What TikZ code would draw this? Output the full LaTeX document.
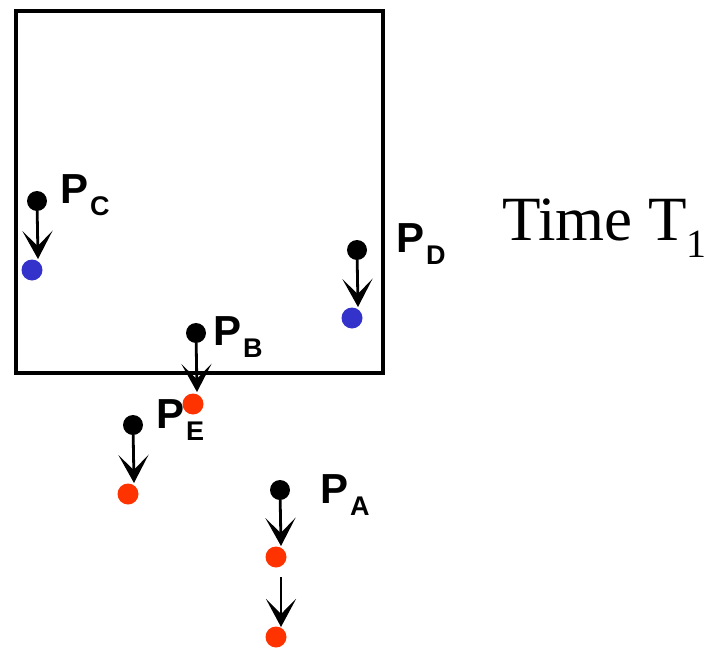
\documentclass[tikz,border=0pt]{standalone}
\usepackage{fontspec}
\setmainfont{Liberation Serif}
\newfontfamily\lblfont{Liberation Sans}
\usetikzlibrary{arrows.meta}
\definecolor{dotblue}{RGB}{51,51,204}
\definecolor{dotred}{RGB}{255,51,0}
\newcommand{\plabel}[1]{{\lblfont\bfseries\fontsize{42}{42}\selectfont P\hspace{2pt}\raisebox{-12pt}{\fontsize{27}{27}\selectfont #1}}}
\begin{document}
\begin{tikzpicture}[x=1pt,y=-1pt,
  blackdot/.style={circle,fill=black,minimum size=20pt,inner sep=0pt},
  bluedot/.style={circle,fill=dotblue,minimum size=21pt,inner sep=0pt},
  reddot/.style={circle,fill=dotred,minimum size=21pt,inner sep=0pt},
  arr/.style={line width=2.8pt,-{Stealth[length=28pt,width=30pt,inset=15pt]}},
  lbl/.style={anchor=base west,inner sep=0pt,outer sep=0pt}]
\useasboundingbox (0,0) rectangle (710,648);
\node[draw,line width=3.6pt,minimum width=367pt,minimum height=362pt,inner sep=0pt,anchor=north west] (box) at (14,9) {};
% P_C
\node[blackdot] (bC) at (37,201) {};
\node[bluedot] (cC) at (32,270) {};
\coordinate (tC) at (38,259);
\draw[arr] (bC) -- (tC);
\node[lbl] (lC) at (60,203) {\plabel{C}};
% P_D
\node[blackdot] (bD) at (357,250) {};
\node[bluedot] (cD) at (352,318) {};
\coordinate (tD) at (358,307);
\draw[arr] (bD) -- (tD);
\node[lbl] (lD) at (396,252) {\plabel{D}};
% P_B
\node[blackdot] (bB) at (196,333) {};
\node[reddot] (cB) at (193,404) {};
\coordinate (tB) at (197,392);
\draw[arr] (bB) -- (tB);
\node[lbl] (lB) at (213,345) {\plabel{B}};
% P_E
\node[blackdot] (bE) at (133,425) {};
\node[reddot] (cE) at (128,494) {};
\coordinate (tE) at (134,483);
\draw[arr] (bE) -- (tE);
\node[lbl] (lE) at (156,428) {\plabel{E}};
% P_A
\node[blackdot] (bA) at (280,490) {};
\node[reddot] (cA) at (276,557) {};
\coordinate (tA) at (281,546);
\draw[arr] (bA) -- (tA);
\coordinate (sA2) at (281,577);
\coordinate (tA2) at (281,627);
\node[reddot] (cA2) at (276,637) {};
\draw[arr] (sA2) -- (tA2);
\node[lbl] (lA) at (320,503) {\plabel{A}};
% Time T1
\node[lbl] (time) at (502,240) {\fontsize{63}{63}\selectfont Time T\raisebox{-17pt}{\fontsize{40}{40}\selectfont 1}};
\end{tikzpicture}
\end{document}
